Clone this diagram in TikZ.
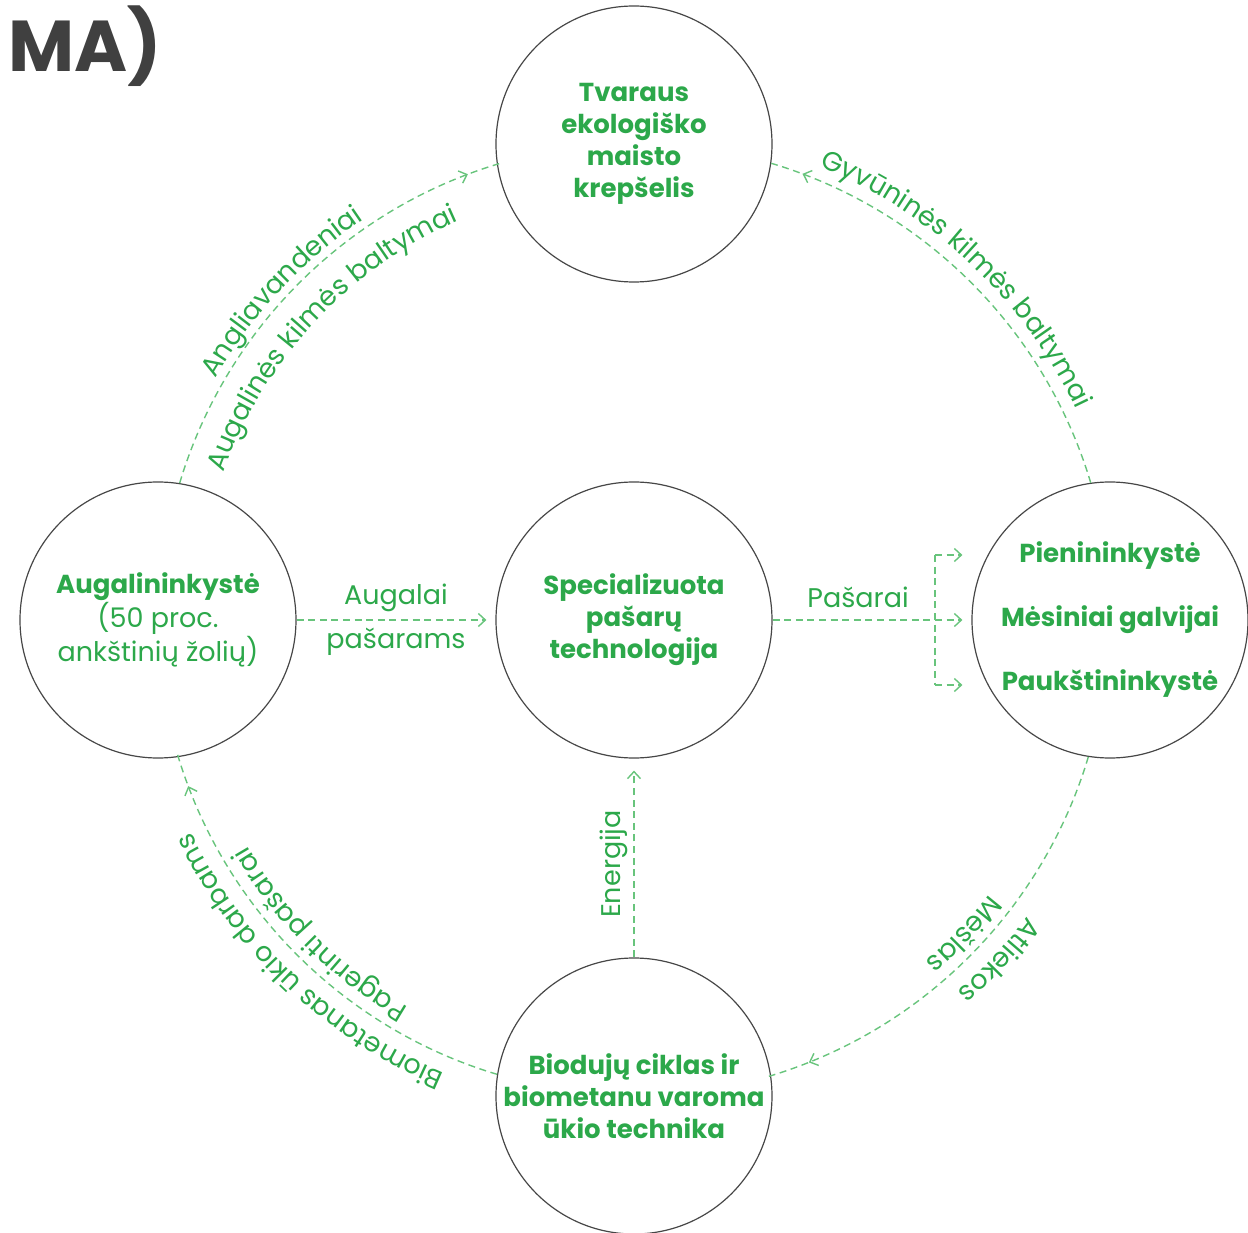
\documentclass[tikz,border=0pt]{standalone}
\usepackage{fontspec}
\setmainfont{Poppins}
\usetikzlibrary{arrows.meta,decorations.text,decorations.markings}
\definecolor{boxgreen}{RGB}{44,168,74}
\definecolor{linegreen}{RGB}{104,196,124}
\definecolor{ringgray}{RGB}{70,70,70}
\definecolor{titlegray}{RGB}{64,64,64}
\newcommand{\lbl}{\color{boxgreen}\fontsize{13.5}{16}\selectfont}

\begin{document}
\begin{tikzpicture}[x=0.5pt,y=0.5pt,
    stage/.style={circle,draw=ringgray,line width=0.6pt,minimum size=138pt,inner sep=0pt,
      align=center,text=boxgreen,font=\fontsize{13}{16}\selectfont\bfseries},
    flow/.style={draw=linegreen,line width=0.7pt,dash pattern=on 3.5pt off 2.3pt},
    flowtip/.style={-{Straight Barb[length=3.5pt,width=6.5pt]}},
    ringflow/.style={flow,postaction={decorate},decoration={markings,
      mark=at position #1 with {\arrow{Straight Barb[length=3.5pt,width=6.5pt]}}}},
    lab/.style={text=boxgreen,font=\fontsize{13.5}{16}\selectfont,inner sep=1pt},
    arclabel/.style={decorate,decoration={text along path,text align=center,text={|\lbl|#1}}}]

    \useasboundingbox (-634,-612) rectangle (614,620);

    \node[anchor=base west,inner sep=0pt,text=titlegray,font=\fontsize{36}{40}\selectfont\bfseries] (title) at (-626,548) {MA)};

    \coordinate (hub) at (0,0);
    \node[stage] (mid) at (hub) {Specializuota\\pašarų\\technologija};
    \node[stage] (top) at (0,476) {Tvaraus\\ekologiško\\maisto\\krepšelis};
    \node[stage] (left) at (-476,0) {Augalininkystė\\{\mdseries\fontsize{13.5}{16}\selectfont (50 proc.}\\{\mdseries\fontsize{13.5}{16}\selectfont ankštinių žolių)}};
    \node[stage] (right) at (476,0) {Pienininkystė\\[16pt]Mėsiniai galvijai\\[16pt]Paukštininkystė};
    \node[stage] (bottom) at (0,-476) {Biodujų ciklas ir\\biometanu varoma\\ūkio technika};

    % straight flows
    \draw[flow,flowtip,shorten >=4.5pt] (left) -- node[lab,above=3pt]{Augalai} node[lab,below=2.5pt]{pašarams} (mid);
    \draw[flow,flowtip,shorten >=4.5pt] (mid) -- node[lab,pos=0.43,above=5pt]{Pašarai} (right);
    \coordinate (forkup) at (301,65);
    \coordinate (forkdn) at (301,-65);
    \draw[flow] (forkup) -- (forkdn);
    \draw[flow,flowtip,shorten >=4.5pt] (forkup) -- (forkup -| right.west);
    \draw[flow,flowtip,shorten >=4.5pt] (forkdn) -- (forkdn -| right.west);
    \draw[flow,flowtip,shorten >=6pt] (bottom) -- node[lab,pos=0.47,sloped,above=2pt]{Energija} (mid);

    % ring flows
    \draw[ringflow=0.93] (left.81.67) arc[start angle=163.33,end angle=106.67,radius=476];
    \draw[ringflow=0.93] (right.98.33) arc[start angle=16.67,end angle=73.33,radius=476];
    \draw[ringflow=0.91] (right.261.67) arc[start angle=-16.67,end angle=-73.33,radius=476];
    \draw[ringflow=0.93] (bottom.171.67) arc[start angle=253.33,end angle=196.67,radius=476];

    % ring labels
    \path[arclabel={Angliavandeniai}] (172:483) arc[start angle=172,end angle=102,radius=483];
    \path[arclabel={Augalinės kilmės baltymai}] (177:436) arc[start angle=177,end angle=97,radius=436];
    \path[arclabel={Gyvūninės kilmės baltymai}] (86.6:490) arc[start angle=86.6,end angle=6.6,radius=490];
    \path[arclabel={Atliekos}] (-13:493) arc[start angle=-13,end angle=-73,radius=493];
    \path[arclabel={Mėšlas}] (-13.6:449) arc[start angle=-13.6,end angle=-73.6,radius=449];
    \path[arclabel={Biometanas ūkio darbams}] (266.5:491) arc[start angle=266.5,end angle=186.5,radius=491];
    \path[arclabel={Pagerinti pašarai}] (265:448) arc[start angle=265,end angle=185,radius=448];

\end{tikzpicture}
\end{document}
